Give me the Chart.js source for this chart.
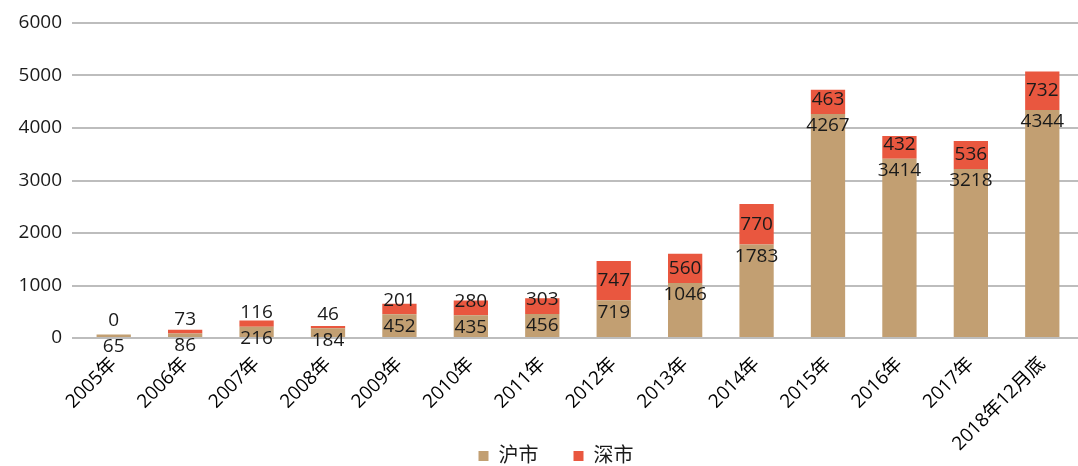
<!DOCTYPE html>
<html>
<head>
<meta charset="utf-8">
<script src="https://cdn.jsdelivr.net/npm/chart.js@4.4.0/dist/chart.umd.min.js"></script>
<style>
  html, body { margin: 0; padding: 0; background: #fff; }
  #wrap { width: 1078px; height: 466px; }
</style>
</head>
<body>
<div id="wrap"><canvas id="grafico" width="1078" height="466"></canvas></div>
<script>
  let categorias = ["2005年", "2006年", "2007年", "2008年", "2009年", "2010年", "2011年", "2012年", "2013年", "2014年", "2015年", "2016年", "2017年", "2018年12月底"]
  let huShi = [65, 86, 216, 184, 452, 435, 456, 719, 1046, 1783, 4267, 3414, 3218, 4344]
  let shenShi = [0, 73, 116, 46, 201, 280, 303, 747, 560, 770, 463, 432, 536, 732]
  let ticksY = [0, 1000, 2000, 3000, 4000, 5000, 6000]

  const fuente = '"Open Sans", "Noto Sans CJK SC", sans-serif'

  // etiquetas de cada tramo de la barra
  const etiquetas = {
    id: "etiquetas",
    afterLayout(chart) {
      // la leyenda va un poco corrida a la derecha y abajo, como en el original
      chart.legend.left = 34
      chart.legend.top = 411
      // que no se corten las etiquetas giradas del eje x
      chart.scales.x.bottom = chart.height
    },
    afterDatasetsDraw(chart) {
      const ctx = chart.ctx
      ctx.save()
      ctx.font = "19px " + fuente
      ctx.fillStyle = "#1a1a1a"
      ctx.textAlign = "center"
      ctx.textBaseline = "middle"
      chart.getDatasetMeta(0).data.forEach((bar, i) => {
        ctx.fillText(huShi[i], bar.x, bar.y + 12)
      })
      chart.getDatasetMeta(1).data.forEach((bar, i) => {
        let medio = (bar.y + bar.base) / 2
        ctx.fillText(shenShi[i], bar.x, Math.min(medio, bar.base - 14))
      })
      ctx.restore()
    }
  }

  var ctx = document.getElementById("grafico").getContext("2d")
  var grafico = new Chart(ctx, {
    type: "bar",
    data: {
      labels: categorias,
      datasets: [
        { label: "沪市", data: huShi, backgroundColor: "#c29f72", barPercentage: 0.48, categoryPercentage: 1 },
        { label: "深市", data: shenShi, backgroundColor: "#e9573f", barPercentage: 0.48, categoryPercentage: 1 }
      ]
    },
    plugins: [etiquetas],
    options: {
      responsive: false,
      animation: false,
      layout: { padding: { top: 23, left: 0, right: 0, bottom: 0 } },
      plugins: {
        tooltip: { enabled: false },
        legend: {
          position: "bottom",
          labels: {
            boxWidth: 10,
            boxHeight: 10,
            padding: 35,
            color: "#1a1a1a",
            font: { size: 20, family: fuente }
          }
        }
      },
      scales: {
        x: {
          stacked: true,
          afterFit(scale) { scale.height = 63 },
          grid: { display: false },
          border: { display: false },
          ticks: {
            autoSkip: false,
            maxRotation: 45,
            minRotation: 45,
            padding: 7,
            color: "#000",
            font: { size: 19, family: fuente }
          }
        },
        y: {
          stacked: true,
          min: 0,
          max: 6000,
          afterFit(scale) { scale.width = 78 },
          afterBuildTicks(scale) { scale.ticks = ticksY.map(v => ({ value: v })) },
          border: { display: false },
          grid: { color: "#bdbdbd", lineWidth: 2, tickLength: 6, drawTicks: true },
          ticks: {
            padding: 10,
            color: "#1a1a1a",
            font: { size: 19, family: fuente },
            callback: v => String(v)
          }
        }
      }
    }
  })
</script>
</body>
</html>
